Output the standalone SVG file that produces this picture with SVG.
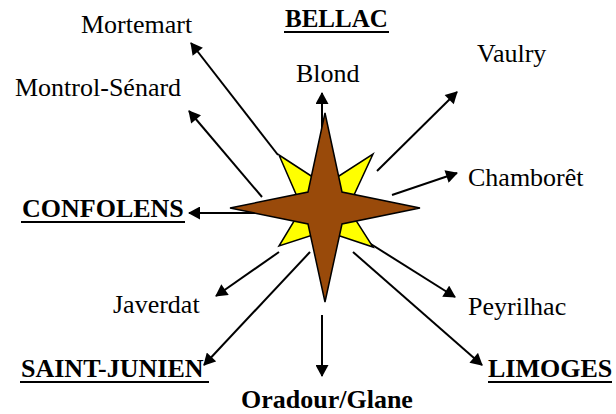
<svg xmlns="http://www.w3.org/2000/svg" width="616" height="414" viewBox="0 0 616 414">
<defs>
<marker id="ah" markerUnits="userSpaceOnUse" markerWidth="13" markerHeight="13" viewBox="0 0 12 13" refX="11" refY="6.5" orient="auto">
<path d="M0,0 L12,6.5 L0,13 z" fill="#000"/>
</marker>
<style>
.c line{stroke:#000;stroke-width:2;marker-end:url(#ah)}
.t text{font-size:26px;fill:#000}
.b{font-weight:bold}
.u{stroke:#000;stroke-width:2}
</style>
</defs>
<rect width="616" height="414" fill="#fff"/>
<g id="connectors" class="c">
<line x1="278" y1="155" x2="191" y2="43"/>
<line x1="262" y1="197" x2="189" y2="111"/>
<line x1="322" y1="150" x2="322" y2="93"/>
<line x1="377" y1="171" x2="457" y2="92"/>
<line x1="392" y1="195" x2="457" y2="173"/>
<line x1="262" y1="213" x2="189" y2="213"/>
<line x1="279" y1="252" x2="216" y2="296"/>
<line x1="310" y1="252" x2="204" y2="365"/>
<line x1="322" y1="315" x2="322" y2="376"/>
<line x1="366" y1="241" x2="455" y2="297"/>
<line x1="353" y1="252" x2="482" y2="365"/>
</g>
<g id="compass" stroke="#000" stroke-width="1.5" stroke-linejoin="miter">
<polygon points="279,155 325,185 373,154 348,208 373,247 325,231 279,246 302,208" fill="#ffff00"/>
<polygon points="325,113 342,192 420,208 342,224 325,302 308,224 230,208 308,192" fill="#994a0a"/>
</g>
<g class="t" font-family="Liberation Serif, DejaVu Serif, serif">
<g id="mortemart"><text x="81" y="33">Mortemart</text></g>
<g id="bellac"><text class="b" x="285" y="27" style="font-size:25px">BELLAC</text><line class="u" x1="284" y1="32" x2="389" y2="32"/></g>
<g id="montrol"><text x="15" y="96">Montrol-Sénard</text></g>
<g id="blond"><text x="296" y="82">Blond</text></g>
<g id="vaulry"><text x="477" y="62">Vaulry</text></g>
<g id="chamboret"><text x="468" y="186">Chamborêt</text></g>
<g id="confolens"><text class="b" x="22" y="217">CONFOLENS</text><line class="u" x1="21" y1="222" x2="185" y2="222"/></g>
<g id="javerdat"><text x="113" y="313">Javerdat</text></g>
<g id="peyrilhac"><text x="468" y="315">Peyrilhac</text></g>
<g id="saintjunien"><text class="b" x="21" y="377">SAINT-JUNIEN</text><line class="u" x1="20" y1="382" x2="209" y2="382"/></g>
<g id="limoges"><text class="b" x="488" y="377">LIMOGES</text><line class="u" x1="488" y1="382" x2="612" y2="382"/></g>
<g id="oradour"><text class="b" x="241" y="408">Oradour/Glane</text></g>
</g>
</svg>
